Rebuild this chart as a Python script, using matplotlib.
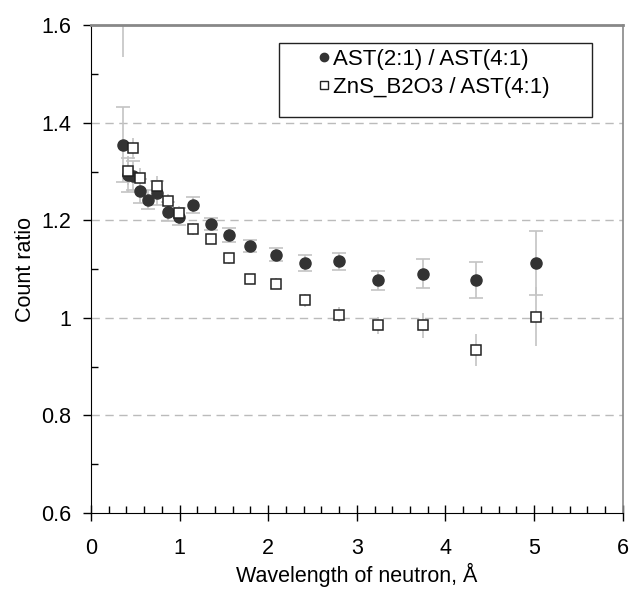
import matplotlib.pyplot as plt
from matplotlib.lines import Line2D
from matplotlib.patches import Rectangle
from matplotlib.ticker import MultipleLocator

plt.rcParams['font.family'] = ['Liberation Sans', 'DejaVu Sans']

# AST(2:1) / AST(4:1)
wl_ast = [0.36, 0.42, 0.48, 0.55, 0.65, 0.75, 0.865, 0.995, 1.15, 1.35, 1.56, 1.79,
          2.09, 2.41, 2.80, 3.24, 3.75, 4.34, 5.02]
ratio_ast = [1.355, 1.294, 1.292, 1.260, 1.243, 1.257, 1.218, 1.208, 1.232, 1.193, 1.170,
             1.148, 1.130, 1.113, 1.116, 1.077, 1.091, 1.077, 1.113]
err_ast = [0.077, 0.035, 0.03, 0.025, 0.02, 0.025, 0.02, 0.018, 0.016, 0.012, 0.014,
           0.012, 0.013, 0.016, 0.018, 0.02, 0.03, 0.037, 0.065]

# ZnS_B2O3 / AST(4:1)  (first point lies above the plotted range)
wl_zns = [0.36, 0.42, 0.48, 0.55, 0.75, 0.865, 0.995, 1.15, 1.35, 1.56, 1.79, 2.09,
          2.41, 2.80, 3.24, 3.75, 4.34, 5.02]
ratio_zns = [1.68, 1.302, 1.348, 1.288, 1.271, 1.239, 1.215, 1.182, 1.161, 1.122, 1.080,
             1.070, 1.036, 1.007, 0.985, 0.985, 0.935, 1.003]
err_zns = [0.145, 0.03, 0.022, 0.02, 0.02, 0.015, 0.015, 0.012, 0.01, 0.012, 0.01,
           0.011, 0.014, 0.015, 0.018, 0.026, 0.033, 0.06]

labels = ['AST(2:1) / AST(4:1)', 'ZnS_B2O3 / AST(4:1)']
yticks = [0.6, 0.8, 1.0, 1.2, 1.4, 1.6]
yticklabels = ['0.6', '0.8', '1', '1.2', '1.4', '1.6']

fig = plt.figure(figsize=(6.31, 5.93), dpi=100)
ax = fig.add_axes([0.144, 0.135, 0.843, 0.822])

ax.set_xlim(0, 6)
ax.set_ylim(0.6, 1.6)

# dashed grid lines
for yv in yticks[1:-1]:
    ax.axhline(yv, color='#bbbbbb', linestyle=(0, (6, 4)), linewidth=1, zorder=0)

# error bars
ax.errorbar(wl_zns, ratio_zns, yerr=err_zns, fmt='none', ecolor='#c4c4c4',
            elinewidth=1.2, capsize=0, zorder=1)
ax.errorbar(wl_ast, ratio_ast, yerr=err_ast, fmt='none', ecolor='#c4c4c4',
            elinewidth=1.2, capsize=5, capthick=1.2, zorder=1)

# markers
ax.plot(wl_zns, ratio_zns, linestyle='none', marker='s', markersize=7,
        markerfacecolor='white', markeredgecolor='#222222', markeredgewidth=1.1, zorder=3)
ax.plot(wl_ast, ratio_ast, linestyle='none', marker='o', markersize=8,
        markerfacecolor='#333333', markeredgecolor='#333333', zorder=2)

# ticks
ax.xaxis.set_major_locator(MultipleLocator(1))
ax.xaxis.set_minor_locator(MultipleLocator(0.2))
ax.yaxis.set_minor_locator(MultipleLocator(0.1))
ax.set_yticks(yticks)
ax.set_yticklabels(yticklabels)
ax.tick_params(which='major', direction='out', length=6, width=1, labelsize=15.5)
ax.tick_params(which='minor', direction='in', length=5, width=1)
ax.tick_params(axis='x', which='major', direction='inout', length=12, pad=12)
ax.tick_params(axis='y', which='major', pad=8)

ax.spines['top'].set_color('#888888')
ax.spines['right'].set_color('#888888')
ax.spines['top'].set_linewidth(2)
ax.spines['right'].set_linewidth(1.2)

ax.set_xlabel('Wavelength of neutron, Å', fontsize=15.5, labelpad=3)
ax.set_ylabel('Count ratio', fontsize=15.5, labelpad=4)

# legend with a hand-placed frame
ax.add_patch(Rectangle((0.353, 0.8125), 0.589, 0.1515, transform=ax.transAxes,
                       facecolor='white', edgecolor='#222222', linewidth=1, zorder=4))
handles = [
    Line2D([], [], linestyle='none', marker='o', markersize=6,
           markerfacecolor='#333333', markeredgecolor='#333333'),
    Line2D([], [], linestyle='none', marker='s', markersize=6,
           markerfacecolor='white', markeredgecolor='#222222'),
]
leg = ax.legend(handles, labels, loc='upper left', bbox_to_anchor=(0.411, 0.97),
                fontsize=16, frameon=False, handlelength=0.5, handletextpad=0.15,
                labelspacing=0.32, borderaxespad=0)
leg.set_zorder(5)

plt.savefig('out.png', dpi=100)
